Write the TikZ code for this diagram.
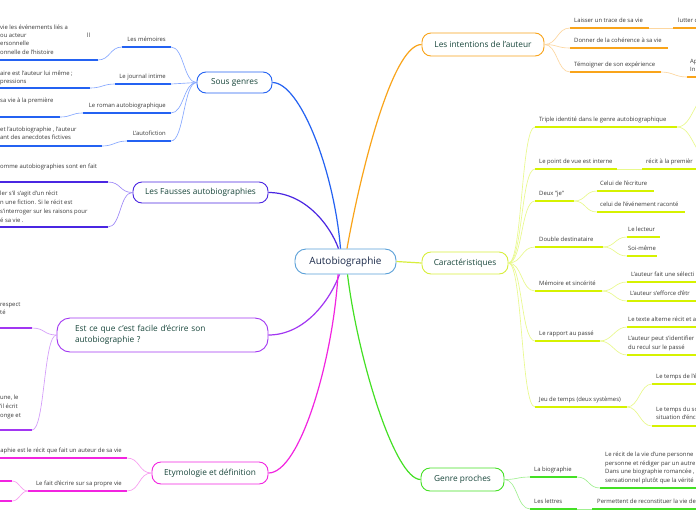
\documentclass[tikz,border=0pt]{standalone}
\usepackage{fontspec}
\setmainfont{Open Sans}
\definecolor{cenB}{HTML}{5AA0D8}
\definecolor{cenT}{HTML}{1B2A4A}
\definecolor{titT}{HTML}{17453A}
\definecolor{txT}{HTML}{3A3A3A}
\definecolor{bluD}{HTML}{2462F2}
\definecolor{bluL}{HTML}{86A8FF}
\definecolor{indD}{HTML}{4A26E2}
\definecolor{indL}{HTML}{9C86F8}
\definecolor{purD}{HTML}{A236F2}
\definecolor{purL}{HTML}{D39AFA}
\definecolor{magD}{HTML}{F224E0}
\definecolor{magL}{HTML}{F89CF0}
\definecolor{oraD}{HTML}{F9A41A}
\definecolor{oraL}{HTML}{FDD7A0}
\definecolor{yelD}{HTML}{D6F200}
\definecolor{yelL}{HTML}{E9F98C}
\definecolor{yelB}{HTML}{D8EE3C}
\definecolor{grnD}{HTML}{44E024}
\definecolor{grnL}{HTML}{A0F090}
% topic with underline, text left aligned
\newcommand{\mmtop}[7]{%
  \coordinate (#1-l) at (#3,#5);
  \coordinate (#1-r) at (#4,#5);
  \draw[uline=#2] (#1-l) -- (#1-r);
  \node[tx] (#1-t) at (#6,#5-5.5) {#7};}
% topic with underline, text right aligned
\newcommand{\mmtopL}[6]{%
  \coordinate (#1-l) at (#3,#5);
  \coordinate (#1-r) at (#4,#5);
  \draw[uline=#2] (#1-l) -- (#1-r);
  \node[tx,anchor=base east] (#1-t) at (#4-5,#5-5.5) {#6};}
% bare underline
\newcommand{\mmline}[5]{%
  \coordinate (#1-l) at (#3,#5);
  \coordinate (#1-r) at (#4,#5);
  \draw[uline=#2] (#1-l) -- (#1-r);}
\begin{document}
\begin{tikzpicture}[x=1pt,y=-1pt,
  tx/.style={font=\fontsize{5.9}{7}\selectfont, text=txT, anchor=base west, inner sep=0pt},
  mbox/.style={draw=#1, line width=0.9pt, rounded corners=9pt, fill=white, inner sep=0pt, text=titT, font=\fontsize{8.3}{10.5}\selectfont},
  uline/.style={line width=1.7pt, draw=#1},
  conn/.style={line width=0.65pt, draw=#1},
  mainc/.style={line width=1.2pt, draw=#1}]
\clip (0,0) rectangle (696,520);
\fill[white] (0,0) rectangle (696,520);

% ---------- main nodes
\node[mbox=cenB, text=cenT, font=\fontsize{10}{12}\selectfont, minimum width=101pt, minimum height=25pt, rounded corners=11pt] (c) at (345.5,261.5) {Autobiographie};
\node[mbox=bluD, minimum width=75pt, minimum height=21pt] (sg) at (234.5,82.5) {Sous genres};
\node[mbox=indD, minimum width=135pt, minimum height=21pt] (fa) at (200.5,192.5) {Les Fausses autobiographies};
\node[mbox=purD, text width=175pt, inner xsep=18pt, align=left, minimum height=34pt, rounded corners=13pt] (ec) at (162.5,335) {Est ce que c'est facile d'écrire son\\autobiographie ?};
\node[mbox=magD, minimum width=116pt, minimum height=22pt] (et) at (210,473) {Etymologie et définition};
\node[mbox=oraD, minimum width=122pt, minimum height=23pt] (in) at (483,44.5) {Les intentions de l'auteur};
\node[mbox=yelB, minimum width=86pt, minimum height=22pt] (ca) at (465,263) {Caractéristiques};
\node[mbox=grnD, minimum width=83pt, minimum height=23pt] (gp) at (462.5,479.5) {Genre proches};

% ---------- main connectors
\draw[mainc=bluD] ([xshift=-5pt]c.north) .. controls (334,170) and (300,82.5) .. (sg.east);
\draw[mainc=oraD] ([xshift=1.5pt]c.north) .. controls (360,175) and (392,44.5) .. (in.west);
\draw[mainc=indD] (fa.east) .. controls (305,192.5) and (330,225) .. ([xshift=-7pt]c.north);
\draw[mainc=purD] (ec.east) .. controls (305,335) and (330,300) .. ([xshift=-6pt]c.south);
\draw[mainc=magD] ([xshift=-7.5pt]c.south) .. controls (333,360) and (300,473) .. (et.east);
\draw[mainc=grnD] ([xshift=2pt]c.south) .. controls (358,360) and (395,479.5) .. (gp.west);
\draw[mainc=yelB] (c.east) -- (ca.west);

% ---------- Sous genres
\mmtopL{mem}{bluD}{122}{171}{47}{Les mémoires}
\mmtopL{jou}{bluD}{115}{171}{84}{Le journal intime}
\mmtopL{rom}{bluD}{83}{171}{113}{Le roman autobiographique}
\mmtopL{aut}{bluD}{127}{171}{141}{L'autofiction}
\foreach \n in {mem,jou,rom,aut}
  \draw[conn=bluL] (sg.west) .. controls +(-13,0) and +(13,0) .. (\n-r);
\mmline{memd}{bluD}{0}{98}{60}
\mmline{joud}{bluD}{0}{90}{88}
\mmline{romd}{bluD}{0}{60}{117}
\mmline{autd}{bluD}{0}{102}{146}
\foreach \n in {mem,jou,rom,aut}
  \draw[conn=bluL] (\n-l) .. controls +(-12,0) and +(12,0) .. (\n d-r);
\node[tx] (memd1) at (0,29) {vie les événements liés a};
\node[tx] (memd2) at (0,37) {ou acteur};
\node[tx] (memd3) at (0,45) {ersonnelle};
\node[tx] (memd4) at (0,54) {onnelle de l'histoire};
\node[tx] (memd5) at (87,37) {ll};
\node[tx] (joud1) at (0,75) {aire est l'auteur lui même ;};
\node[tx] (joud2) at (0,83) {pressions};
\node[tx] (romd1) at (0,102) {sa vie à la première};
\node[tx] (autd1) at (0,131) {et l'autobiographie , l'auteur};
\node[tx] (autd2) at (0,139) {ant des anecdotes fictives};

% ---------- Fausses autobiographies
\mmline{f1}{indD}{0}{108}{182}
\mmline{f2}{indD}{0}{108}{227}
\foreach \n in {f1,f2}
  \draw[conn=indL] (fa.west) .. controls +(-13,0) and +(13,0) .. (\n-r);
\node[tx] (f1a) at (0,168) {omme autobiographies sont en fait};
\node[tx] (f2a) at (0,195) {ler s'il s'agit d'un récit};
\node[tx] (f2b) at (0,204) {n une fiction. Si le récit est};
\node[tx] (f2c) at (0,213) {s'interroger sur les raisons pour};
\node[tx] (f2d) at (0,222) {é sa vie .};

% ---------- Est ce que
\mmline{e1}{purD}{0}{32}{328}
\mmline{e2}{purD}{0}{32}{430}
\foreach \n in {e1,e2}
  \draw[conn=purL] (ec.west) .. controls +(-13,0) and +(13,0) .. (\n-r);
\node[tx] (e1a) at (0,306) {respect};
\node[tx] (e1b) at (0,314) {té};
\node[tx] (e2a) at (0,399) {une, le};
\node[tx] (e2b) at (0,408) {'il écrit};
\node[tx] (e2c) at (0,417) {onge et};

% ---------- Etymologie
\mmtopL{m1}{magD}{0}{127}{458}{aphie est le récit que fait un auteur de sa vie}
\mmtopL{m2}{magD}{28}{127}{491}{Le fait d'écrire sur sa propre vie}
\foreach \n in {m1,m2}
  \draw[conn=magL] (et.west) .. controls +(-13,0) and +(13,0) .. (\n-r);
\mmline{m3}{magD}{0}{12}{481}
\mmline{m4}{magD}{0}{12}{501}
\foreach \n in {m3,m4}
  \draw[conn=magL] (m2-l) .. controls +(-8,0) and +(8,0) .. (\n-r);

% ---------- Intentions
\mmtop{i1}{oraD}{570}{649}{28}{574}{Laisser un trace de sa vie}
\mmtop{i1a}{oraD}{673}{700}{28}{678}{lutter c}
\mmtop{i2}{oraD}{570}{668}{48}{574}{Donner de la cohérence à sa vie}
\mmtop{i3}{oraD}{570}{661}{72}{574}{Témoigner de son expérience}
\mmline{i3a}{oraD}{687}{700}{77}
\node[tx] (i3t1) at (690,63) {Ap};
\node[tx] (i3t2) at (690,71) {In};
\foreach \n in {i1,i2,i3}
  \draw[conn=oraL] (in.east) .. controls +(13,0) and +(-13,0) .. (\n-l);
\draw[conn=oraL] (i1-r) -- (i1a-l);
\draw[conn=oraL] (i3-r) .. controls +(12,0) and +(-12,0) .. (i3a-l);

% ---------- Caracteristiques
\mmtop{k1}{yelD}{535}{677}{127}{539}{Triple identité dans le genre autobiographique}
\mmtop{k2}{yelD}{535}{617}{169}{539}{Le point de vue est interne}
\mmtop{k3}{yelD}{535}{574}{201}{539}{Deux "je"}
\mmtop{k4}{yelD}{535}{603}{247}{539}{Double destinataire}
\mmtop{k5}{yelD}{535}{602}{291}{539}{Mémoire et sincérité}
\mmtop{k6}{yelD}{535}{600}{341}{539}{Le rapport au passé}
\mmtop{k7}{yelD}{535}{627}{407}{539}{Jeu de temps (deux systèmes)}
\foreach \n in {k1,k2,k3,k4,k5,k6,k7}
  \draw[conn=yelL] (ca.east) .. controls +(14,0) and +(-14,0) .. (\n-l);
\coordinate (k1u) at (710,95);
\coordinate (k1d) at (710,158);
\draw[conn=yelL] (k1-r) .. controls +(16,0) and +(-16,0) .. (k1u);
\draw[conn=yelL] (k1-r) .. controls +(16,0) and +(-16,0) .. (k1d);
\mmtop{k2a}{yelD}{642}{700}{169}{646}{récit à la premièr}
\draw[conn=yelL] (k2-r) -- (k2a-l);
\mmtop{k3a}{yelD}{597}{654}{191}{600}{Celui de l'écriture}
\mmtop{k3b}{yelD}{597}{685}{212}{600}{celui de l'événement raconté}
\mmtop{k4a}{yelD}{627}{660}{237}{628}{Le lecteur}
\mmtop{k4b}{yelD}{627}{657}{256}{628}{Soi-même}
\mmtop{k5a}{yelD}{627}{700}{282}{631}{L'auteur fait une sélecti}
\mmtop{k5b}{yelD}{627}{700}{301}{630}{L'auteur s'efforce d'êtr}
\mmtop{k6a}{yelD}{627}{700}{327}{628}{Le texte alterne récit et a}
\mmline{k6b}{yelD}{627}{700}{355}
\node[tx] (k6b1) at (628,340) {L'auteur peut s'identifier};
\node[tx] (k6b2) at (628,349) {du recul sur le passé};
\mmtop{k7a}{yelD}{652}{700}{384}{656}{Le temps de l'é}
\mmline{k7b}{yelD}{652}{700}{426}
\node[tx] (k7b1) at (656,411) {Le temps du so};
\node[tx] (k7b2) at (656,419) {situation d'énc};
\foreach \p in {k3,k4,k5,k6,k7}{
  \draw[conn=yelL] (\p-r) .. controls +(12,0) and +(-12,0) .. (\p a-l);
  \draw[conn=yelL] (\p-r) .. controls +(12,0) and +(-12,0) .. (\p b-l);}

% ---------- Genre proches
\mmtop{g1}{grnD}{530}{577}{477}{534}{La biographie}
\mmtop{g2}{grnD}{530}{577}{509}{534}{Les lettres}
\foreach \n in {g1,g2}
  \draw[conn=grnL] (gp.east) .. controls +(13,0) and +(-13,0) .. (\n-l);
\mmline{g1a}{grnD}{600}{700}{488}
\node[tx] (g1a1) at (605,456) {Le récit de la vie d'une personne};
\node[tx] (g1a2) at (605,465) {personne et rédiger par un autre};
\node[tx] (g1a3) at (605,473) {Dans une biographie romancée ,};
\node[tx] (g1a4) at (605,482) {sensationnel plutôt que la vérité};
\draw[conn=grnL] (g1-r) .. controls +(12,0) and +(-12,0) .. (g1a-l);
\mmtop{g2a}{grnD}{592}{700}{509}{597}{Permettent de reconstituer la vie de}
\draw[conn=grnL] (g2-r) -- (g2a-l);
\end{tikzpicture}
\end{document}
